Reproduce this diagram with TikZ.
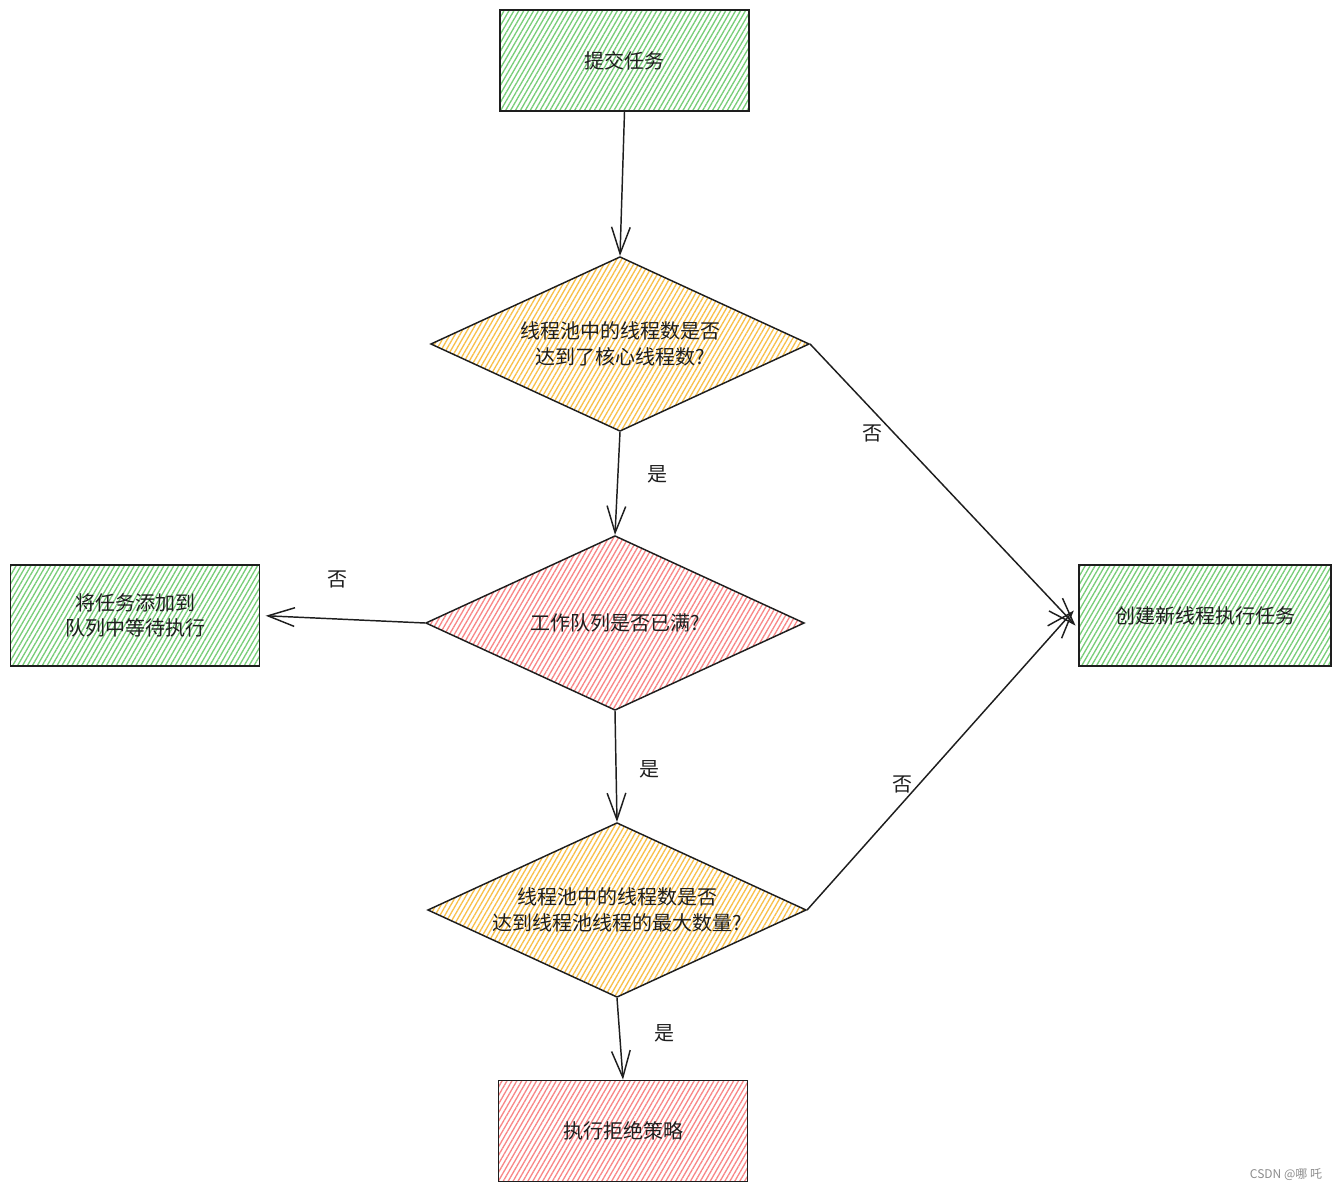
\documentclass[tikz,border=0pt]{standalone}
\usepackage{fontspec}
\setmainfont{Noto Sans CJK SC}
\usetikzlibrary{arrows.meta,patterns.meta,shapes.geometric}

\definecolor{hgreen}{RGB}{120,205,120}
\definecolor{hyellow}{RGB}{248,192,75}
\definecolor{hred}{RGB}{248,135,135}
\definecolor{ink}{RGB}{30,30,30}

\begin{document}
\begin{tikzpicture}[x=0.75pt,y=-0.75pt,
  txt/.style={font=\fontsize{15pt}{19pt}\selectfont, text=ink, align=center},
  shapeline/.style={draw=ink, line width=1.1pt},
  box/.style={txt, shapeline, rectangle, minimum width=187pt, minimum height=76pt, inner sep=0pt},
  dia/.style={txt, shapeline, diamond, aspect=2.17, minimum width=284pt, minimum height=131pt, inner sep=0pt},
  hatchgreen/.style={pattern={Lines[angle=60,distance=3.2pt,line width=1pt]}, pattern color=hgreen},
  hatchyellow/.style={pattern={Lines[angle=60,distance=3.2pt,line width=1pt]}, pattern color=hyellow},
  hatchred/.style={pattern={Lines[angle=60,distance=3.2pt,line width=1pt]}, pattern color=hred},
  arr/.style={draw=ink, line width=1.1pt, -{Straight Barb[length=20pt,width=14pt,line width=1.1pt]}},
  lbl/.style={txt}
]
\useasboundingbox (0,0) rectangle (1340,1191);

% nodes
\node[box, hatchgreen] (b1) at (624.5,60.5) {提交任务};
\node[dia, hatchyellow] (d1) at (620,344) {线程池中的线程数是否\\达到了核心线程数?};
\node[dia, hatchred] (d2) at (615,623) {工作队列是否已满?};
\node[dia, hatchyellow] (d3) at (617,910) {线程池中的线程数是否\\达到线程池线程的最大数量?};
\node[box, hatchgreen] (lb) at (135,615.5) {将任务添加到\\队列中等待执行};
\node[box, hatchgreen, minimum width=189pt] (rb) at (1205,615.5) {创建新线程执行任务};
\node[box, hatchred] (bb) at (623,1131) {执行拒绝策略};

% connectors
\draw[arr] (b1.south) -- (d1.north);
\draw[arr] (d1.south) -- (d2.north);
\draw[arr, shorten >=3pt] (d1.east) -- ([yshift=-9.75pt]rb.west);
\draw[arr, shorten >=4pt] (d2.west) -- (lb.east);
\draw[arr] (d2.south) -- (d3.north);
\draw[arr, shorten >=5pt] (d3.east) -- ([yshift=7.5pt]rb.west);
\draw[arr] (d3.south) -- (bb.north);

% labels
\node[lbl] (l1) at (657,474) {是};
\node[lbl] (l2) at (872,433) {否};
\node[lbl] (l3) at (337,579) {否};
\node[lbl] (l4) at (649,769) {是};
\node[lbl] (l5) at (902,784) {否};
\node[lbl] (l6) at (664,1033) {是};

% watermark
\node[font=\fontsize{9pt}{10pt}\selectfont, text=black!45] (wm) at (1286,1175) {CSDN @哪 吒};
\end{tikzpicture}
\end{document}
